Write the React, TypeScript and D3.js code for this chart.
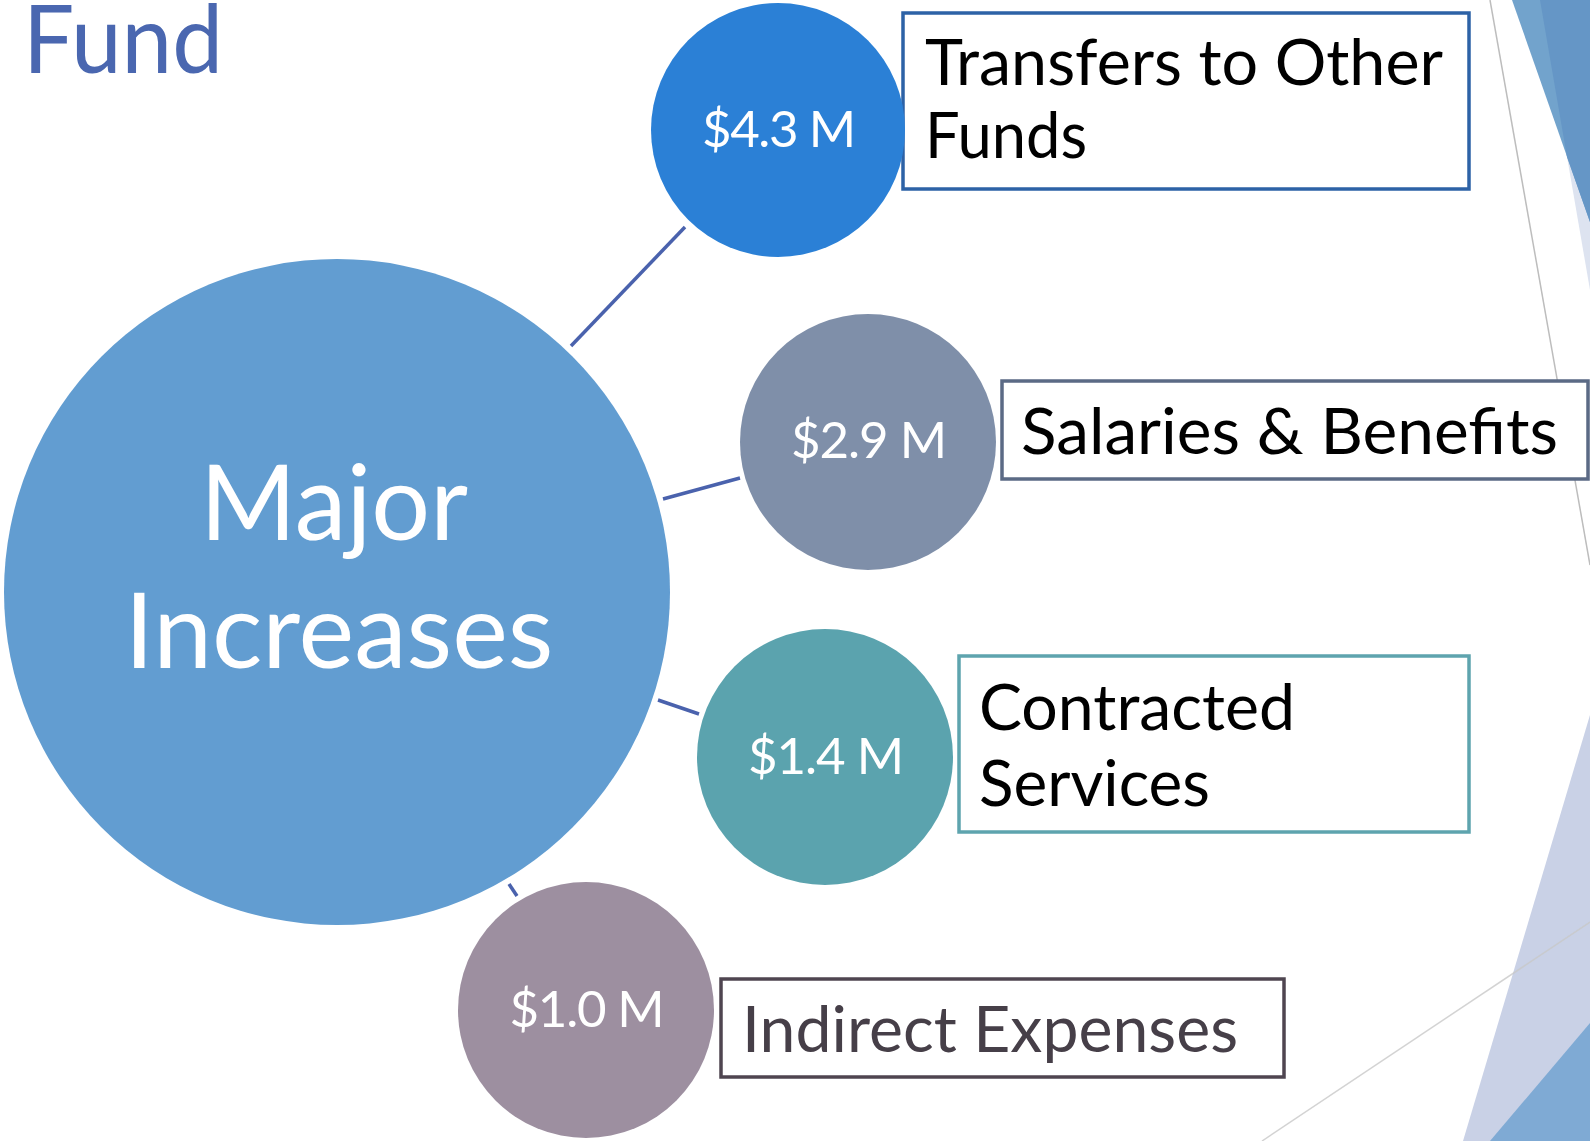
import React from "react";
import * as d3 from "d3";

// ---- data ----
const categories = ["Transfers to Other Funds", "Salaries & Benefits", "Contracted Services", "Indirect Expenses"];
const categoryLines = [["Transfers to Other", "Funds"], ["Salaries & Benefits"], ["Contracted", "Services"], ["Indirect Expenses"]];
const values = [4.3, 2.9, 1.4, 1.0];
const centerLabel = ["Major", "Increases"];
const titleText = "Fund";

// ---- layout / style ----
const W = 1590;
const H = 1141;
const FONT = "Lato, 'Open Sans', sans-serif";
const hub = { cx: 337, cy: 592, r: 333, fill: "#629dd1" };
const nodes = [
  { cx: 778, cy: 130, r: 127, fill: "#2b80d6", box: [903, 13, 1469, 189], stroke: "#2d62a6", text: "#000", base: [85, 158], widths: [518, 162], tx: 925, lblW: 154, lblY: 147, link: [571, 346, 685, 227] },
  { cx: 868, cy: 442, r: 128, fill: "#7f8fa9", box: [1002, 381, 1588, 479], stroke: "#5b6a85", text: "#000", base: [454], widths: [537], tx: 1021, lblW: 156, lblY: 458, link: [663, 499, 740, 478] },
  { cx: 825, cy: 757, r: 128, fill: "#5ba3ae", box: [959, 656, 1469, 832], stroke: "#5ea4ae", text: "#000", base: [730, 806], widths: [316, 231], tx: 979, lblW: 156, lblY: 774, link: [658, 700, 699, 714] },
  { cx: 586, cy: 1010, r: 128, fill: "#9d8fa0", box: [721, 979, 1284, 1077], stroke: "#4f4550", text: "#463f48", base: [1052], widths: [496], tx: 742, lblW: 155, lblY: 1027, link: [509, 884, 517, 896] },
];

const fmt = d3.format(".1f");

export default function App() {
  const lineGen = d3.line();
  const poly = (pts: [number, number][]) => lineGen(pts) + "Z";
  return (
    <svg width={W} height={H} style={{ position: "absolute", left: 0, top: 0, background: "#fff" }} fontFamily={FONT}>
      <rect width={W} height={H} fill="#ffffff" />
      {/* decorative shapes */}
      <path d={poly([[1540, 0], [1590, 0], [1590, 290]])} fill="#dde3f0" />
      <path d={poly([[1512, 0], [1590, 0], [1590, 222]])} fill="#72a3cc" />
      <path d={poly([[1540, 0], [1590, 0], [1590, 222], [1567, 157]])} fill="#6596c6" />
      <path d={poly([[1590, 715], [1590, 1141], [1463, 1141]])} fill="#c9d1e6" />
      <path d={poly([[1590, 1023], [1590, 1141], [1490, 1141]])} fill="#7faad4" />
      <path d={lineGen([[1490, 0], [1590, 565]]) as string} stroke="#bdbdbd" strokeWidth={1.5} fill="none" />
      <path d={lineGen([[1590, 922], [1262, 1141]]) as string} stroke="#c8c8c8" strokeWidth={1.5} fill="none" opacity={0.8} />

      {/* title */}
      <text x={23} y={73} fontSize={95} fill="#4a67b0" textLength={200} lengthAdjust="spacingAndGlyphs">{titleText}</text>

      {/* boxes */}
      {nodes.map((n, i) => (
        <g key={"b" + i}>
          <rect x={n.box[0]} y={n.box[1]} width={n.box[2] - n.box[0]} height={n.box[3] - n.box[1]} fill="#fff" stroke={n.stroke} strokeWidth={3.5} />
          {categoryLines[i].map((ln, j) => (
            <text key={j} x={n.tx} y={n.base[j]} fontSize={64} fill={n.text} textLength={n.widths[j]} lengthAdjust="spacingAndGlyphs">{ln}</text>
          ))}
        </g>
      ))}

      {/* connectors */}
      {nodes.map((n, i) => (
        <path key={"l" + i} d={lineGen([[n.link[0], n.link[1]], [n.link[2], n.link[3]]]) as string} stroke="#4a62ad" strokeWidth={3.5} fill="none" />
      ))}

      {/* hub */}
      <circle cx={hub.cx} cy={hub.cy} r={hub.r} fill={hub.fill} />
      <text x={hub.cx - 3} y={540} fontSize={104} fill="#fff" textAnchor="middle" textLength={268} lengthAdjust="spacingAndGlyphs">{centerLabel[0]}</text>
      <text x={hub.cx + 2} y={668} fontSize={104} fill="#fff" textAnchor="middle" textLength={429} lengthAdjust="spacingAndGlyphs">{centerLabel[1]}</text>

      {/* value circles */}
      {nodes.map((n, i) => (
        <g key={"c" + i}>
          <circle cx={n.cx} cy={n.cy} r={n.r} fill={n.fill} />
          <text x={n.cx + 1} y={n.lblY} fontSize={51} fill="#fff" textAnchor="middle" textLength={n.lblW} lengthAdjust="spacing">{`$${fmt(values[i])} M`}</text>
        </g>
      ))}
      <title>{categories.join(", ")}</title>
    </svg>
  );
}
